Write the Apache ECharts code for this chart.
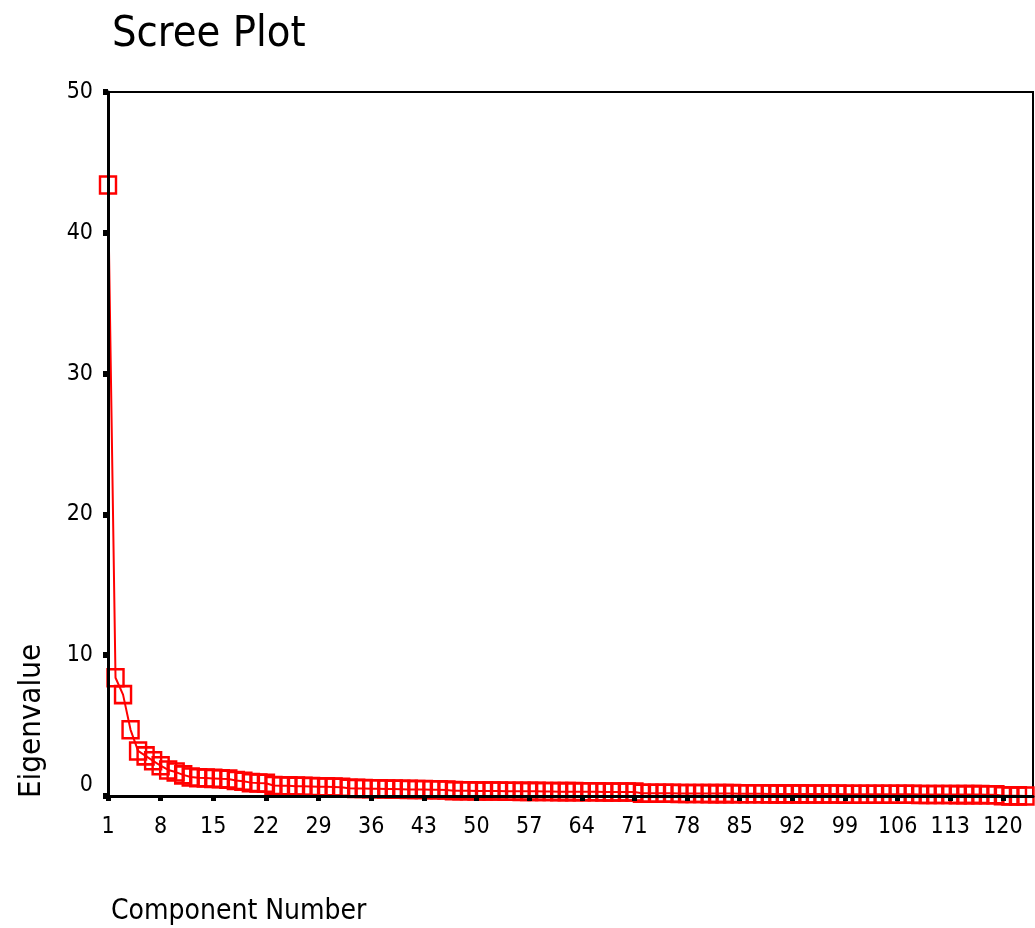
<!DOCTYPE html>
<html>
<head>
<meta charset="utf-8">
<script src="https://cdn.jsdelivr.net/npm/echarts@6/dist/echarts.min.js"></script>
<style>
html,body{margin:0;padding:0;background:#fff;}
#chart{width:1035px;height:928px;}
</style>
</head>
<body>
<div id="chart"></div>
<script>
// ---- data ----
const titleText = 'Scree Plot';
const xAxisTitle = 'Component Number';
const yAxisTitle = 'Eigenvalue';

const eigenvalues = [
  43.4, 8.4, 7.2, 4.7, 3.2, 2.85, 2.5, 2.15, 1.85, 1.7,
  1.5, 1.35, 1.3, 1.28, 1.25, 1.22, 1.2, 1.1, 1.05, 0.95,
  0.92, 0.9,
  0.75, 0.73, 0.72, 0.7, 0.69, 0.68, 0.66, 0.65, 0.64, 0.62,
  0.55, 0.54, 0.53, 0.52, 0.51, 0.5, 0.49, 0.48, 0.47, 0.46, 0.46, 0.45, 0.44, 0.43,
  0.38, 0.37, 0.37, 0.36, 0.36, 0.35, 0.35, 0.34, 0.34, 0.33, 0.33, 0.33, 0.32,
  0.32, 0.31, 0.31, 0.31, 0.30, 0.30, 0.30, 0.29, 0.29, 0.29, 0.28, 0.28,
  0.2, 0.2, 0.19, 0.19, 0.19, 0.18, 0.18, 0.18, 0.18, 0.17, 0.17, 0.17, 0.17,
  0.16, 0.16, 0.16, 0.16, 0.15, 0.15, 0.15, 0.15, 0.15, 0.14, 0.14, 0.14, 0.14, 0.14,
  0.13, 0.13, 0.13, 0.13, 0.13, 0.12, 0.12, 0.12, 0.12, 0.12, 0.11, 0.11, 0.11, 0.11, 0.11,
  0.10, 0.10, 0.10, 0.10, 0.09, 0.09,
  0.02, 0.01, 0.01, 0.0
];
const componentNumbers = eigenvalues.map((v, i) => i + 1);
const xTickLabels = [1, 8, 15, 22, 29, 36, 43, 50, 57, 64, 71, 78, 85, 92, 99, 106, 113, 120];
const yTickLabels = [0, 10, 20, 30, 40, 50];

// ---- chart ----
const numFont = '"DejaVu Sans Condensed", "DejaVu Sans", sans-serif';
const txtFont = '"DejaVu Sans Condensed", "DejaVu Sans", sans-serif';

const chart = echarts.init(document.getElementById('chart'), null, {renderer: 'canvas'});
chart.setOption({
  backgroundColor: '#ffffff',
  animation: false,
  title: [
    {text: titleText, left: 107, top: 8,
     textStyle: {fontFamily: txtFont, fontSize: 43, fontWeight: 'normal', color: '#000'}},
    {text: xAxisTitle, left: 106, top: 893,
     textStyle: {fontFamily: txtFont, fontSize: 28, fontWeight: 'normal', color: '#000'}}
  ],
  graphic: [{
    type: 'text', x: 32, y: 721, rotation: Math.PI / 2,
    style: {text: yAxisTitle, fill: '#000', font: '31px ' + txtFont,
            textAlign: 'center', textVerticalAlign: 'middle'}
  }],
  grid: {left: 108, right: 2, top: 92, bottom: 132, show: true,
         borderColor: '#000', borderWidth: 2, backgroundColor: 'transparent'},
  xAxis: {
    type: 'value', min: 1, max: 124, interval: 7, z: 10,
    splitLine: {show: false},
    axisLine: {show: true, onZero: false, lineStyle: {color: '#000', width: 3}},
    axisTick: {show: true, length: 5, customValues: xTickLabels,
               lineStyle: {color: '#000', width: 5}},
    axisLabel: {customValues: xTickLabels, margin: 20, color: '#000',
                fontFamily: numFont, fontSize: 23}
  },
  yAxis: {
    type: 'value', min: 0, max: 50, interval: 10, z: 10,
    splitLine: {show: false},
    axisLine: {show: true, lineStyle: {color: '#000', width: 3}},
    axisTick: {show: true, length: 5, customValues: yTickLabels,
               lineStyle: {color: '#000', width: 6}},
    axisLabel: {customValues: yTickLabels, margin: 15, color: '#000', fontFamily: numFont, fontSize: 23,
                formatter: v => (v === 0 ? '{z|0}' : String(v)),
                rich: {z: {fontFamily: numFont, fontSize: 23, color: '#000', padding: [0, 0, 22, 0]}}}
  },
  series: [{
    type: 'line',
    data: componentNumbers.map((c, i) => [c, eigenvalues[i]]),
    clip: false,
    symbol: 'rect',
    symbolSize: [16, 17],
    showAllSymbol: true,
    lineStyle: {color: '#ff0000', width: 2},
    itemStyle: {color: 'rgba(0,0,0,0)', borderColor: '#ff0000', borderWidth: 2.5},
    z: 2
  }]
});
</script>
</body>
</html>
